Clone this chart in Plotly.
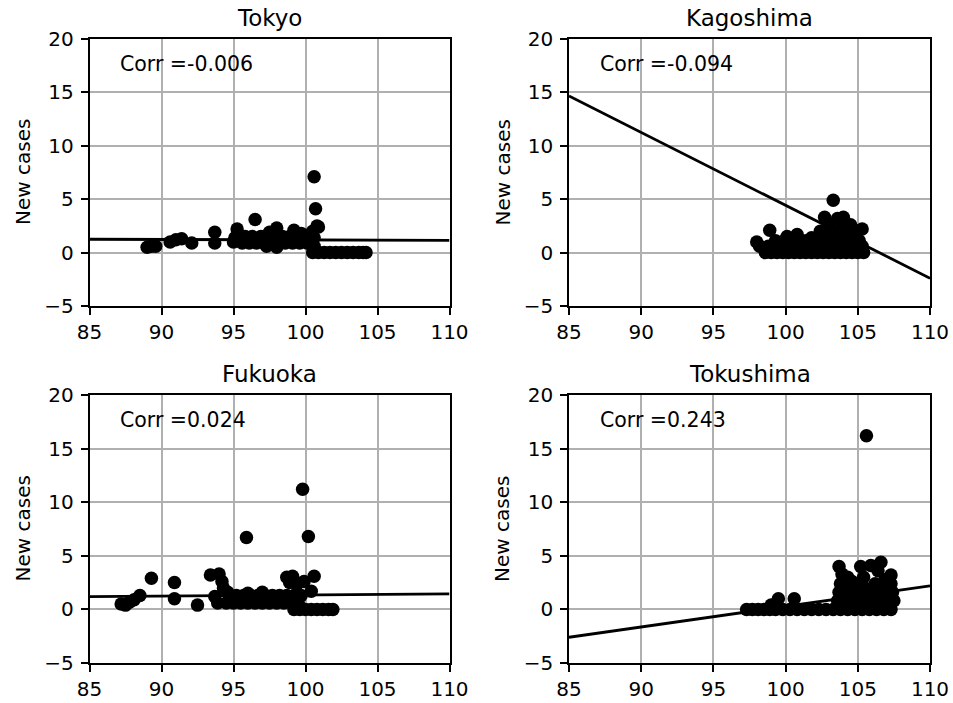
import plotly.graph_objects as go

# Scatter of new cases against the index, one panel per prefecture
regions = ["Tokyo", "Kagoshima", "Fukuoka", "Tokushima"]
corr_values = [-0.006, -0.094, 0.024, 0.243]

tokyo_x = [89.0, 89.3, 89.6, 90.6, 91.0, 91.4, 92.1, 93.7, 93.7, 95.0, 95.25, 95.1,
           95.6, 96.1, 96.6, 97.1, 97.6, 98.1, 98.6, 99.1, 99.6, 100.1,
           95.8, 96.3, 96.9, 97.4, 97.9, 98.4, 98.9, 99.4, 99.9, 100.3,
           96.5, 98.0, 99.2, 97.5, 99.7, 100.5, 98.0, 97.3,
           100.6, 100.7, 100.8, 100.9, 100.6, 100.6,
           100.5, 100.9, 101.3, 101.7, 102.1, 102.5, 102.9, 103.3, 103.7, 104.0, 104.2]
tokyo_y = [0.5, 0.6, 0.6, 1.0, 1.2, 1.3, 0.9, 1.9, 0.9, 1.0, 2.2, 1.4,
           0.9, 0.9, 0.9, 0.9, 0.9, 0.9, 0.9, 0.9, 0.9, 0.9,
           1.5, 1.5, 1.5, 1.5, 1.5, 1.5, 1.5, 1.5, 1.5, 1.5,
           3.1, 2.3, 2.1, 1.9, 1.8, 2.0, 0.5, 0.6,
           7.1, 4.1, 2.5, 2.4, 1.4, 0.6,
           0.0, 0.0, 0.0, 0.0, 0.0, 0.0, 0.0, 0.0, 0.0, 0.0, 0.0]

kagoshima_x = [98.6, 99.0, 99.4, 99.8, 100.2, 100.6, 101.0, 101.4, 101.8, 102.2, 102.6,
               103.0, 103.4, 103.8, 104.2, 104.6, 105.0, 105.4,
               98.2, 98.8, 99.5, 100.3, 101.1, 101.9, 102.5, 103.1, 103.7, 104.3, 104.9,
               105.3,
               98.0, 99.3, 99.9, 100.6, 101.4, 102.1, 102.7, 103.3, 103.9, 104.5, 105.1,
               98.9, 100.1, 100.8, 101.8, 102.4, 102.7, 103.0, 103.3, 103.6, 103.8, 104.0,
               104.2, 104.5, 104.8, 105.0, 105.3, 102.9, 103.5]
kagoshima_y = [0.0, 0.0, 0.0, 0.0, 0.0, 0.0, 0.0, 0.0, 0.0, 0.0, 0.0,
               0.0, 0.0, 0.0, 0.0, 0.0, 0.0, 0.0,
               0.6, 0.6, 0.6, 0.6, 0.6, 0.6, 0.6, 0.6, 0.6, 0.6, 0.6,
               0.6,
               1.0, 1.1, 1.1, 1.1, 1.1, 1.1, 1.1, 1.1, 1.1, 1.1, 1.1,
               2.1, 1.5, 1.7, 1.4, 2.0, 3.3, 2.6, 4.9, 3.2, 2.2, 3.3,
               1.8, 2.6, 1.6, 2.0, 2.2, 1.6, 1.6]

fukuoka_x = [87.2, 87.5, 87.8, 88.1, 88.5, 89.3, 90.9, 90.9, 92.5, 93.9, 93.7,
             93.4, 94.0, 94.2, 94.3, 94.6,
             94.5, 95.0, 95.5, 96.0, 96.5, 97.0, 97.5, 98.0, 98.5, 99.0, 99.5,
             94.7, 95.2, 95.7, 96.2, 96.7, 97.2, 97.7, 98.2, 98.7, 99.2, 99.7,
             98.7, 99.1, 98.9, 99.4, 99.9, 100.6, 100.4, 97.0, 96.0,
             95.9, 99.8, 100.2,
             99.2, 99.6, 100.0, 100.4, 100.8, 101.2, 101.6, 101.9]
fukuoka_y = [0.5, 0.4, 0.7, 0.9, 1.3, 2.9, 2.5, 1.0, 0.4, 0.6, 1.2,
             3.2, 3.3, 2.6, 2.0, 1.6,
             0.6, 0.6, 0.6, 0.6, 0.6, 0.6, 0.6, 0.6, 0.6, 0.6, 0.6,
             1.3, 1.3, 1.3, 1.3, 1.3, 1.3, 1.3, 1.3, 1.3, 1.3, 1.3,
             3.0, 3.1, 2.5, 2.3, 2.6, 3.1, 1.7, 1.6, 1.5,
             6.7, 11.2, 6.8,
             0.0, 0.0, 0.0, 0.0, 0.0, 0.0, 0.0, 0.0]

tokushima_x = [97.3, 97.7, 98.1, 98.5, 98.9, 99.3, 99.8, 100.3, 100.8, 101.3, 101.8,
               102.3, 102.8, 103.3, 103.8, 104.3, 104.8, 105.3, 105.8, 106.3, 106.8,
               107.3,
               99.5, 100.6, 99.0,
               103.6, 104.1, 104.6, 105.1, 105.6, 106.1, 106.6, 107.1, 107.5,
               103.7, 104.3, 104.9, 105.4, 105.9, 106.4, 106.9, 107.4,
               103.8, 104.4, 105.5, 106.2, 106.8, 107.3,
               103.7, 103.9, 104.3, 105.2, 105.9, 106.6, 106.4, 107.3, 105.0, 104.6,
               106.9, 105.4, 105.6]
tokushima_y = [0.0, 0.0, 0.0, 0.0, 0.0, 0.0, 0.0, 0.0, 0.0, 0.0, 0.0,
               0.0, 0.0, 0.0, 0.0, 0.0, 0.0, 0.0, 0.0, 0.0, 0.0,
               0.0,
               1.0, 1.0, 0.4,
               0.8, 0.8, 0.8, 0.8, 0.8, 0.8, 0.8, 0.8, 0.8,
               1.6, 1.6, 1.6, 1.6, 1.6, 1.6, 1.6, 1.6,
               2.4, 2.4, 2.0, 2.4, 2.4, 2.4,
               4.0, 3.3, 3.0, 4.0, 4.1, 4.4, 3.6, 3.2, 2.0, 2.6,
               2.8, 3.0, 16.2]

scatter_x = [tokyo_x, kagoshima_x, fukuoka_x, tokushima_x]
scatter_y = [tokyo_y, kagoshima_y, fukuoka_y, tokushima_y]

# Fitted regression lines, evaluated at the ends of the x range
fit_x = [85, 110]
fit_y = [[1.25, 1.15], [14.66, -2.4], [1.2, 1.45], [-2.6, 2.2]]

x_range = [85, 110]
y_range = [-5, 20]
x_ticks = [85, 90, 95, 100, 105, 110]
y_ticks = [-5, 0, 5, 10, 15, 20]

W, H = 953, 703
col_px = [(89.5, 449.5), (569.0, 930.0)]
row_px = [(39.0, 306.0), (395.0, 663.0)]
FONT = "DejaVu Sans"

fig = go.Figure()
annotations = []
for i, name in enumerate(regions):
    r, c = divmod(i, 2)
    suffix = "" if i == 0 else str(i + 1)
    xa, ya = "x" + suffix, "y" + suffix
    fig.add_trace(go.Scatter(x=scatter_x[i], y=scatter_y[i], mode="markers",
                             marker=dict(color="black", size=13.5, line=dict(width=0)),
                             xaxis=xa, yaxis=ya, showlegend=False))
    fig.add_trace(go.Scatter(x=fit_x, y=fit_y[i], mode="lines",
                             line=dict(color="black", width=2.8),
                             xaxis=xa, yaxis=ya, showlegend=False))
    x0, x1 = col_px[c]
    y0, y1 = row_px[r]
    axis_common = dict(showgrid=True, gridcolor="#b0b0b0", gridwidth=1.5,
                       showline=True, linecolor="black", linewidth=1.6, mirror=True,
                       ticks="outside", ticklen=7, tickwidth=1.6, tickcolor="black",
                       zeroline=False, automargin=False,
                       tickfont=dict(family=FONT, size=20, color="black"))
    fig.update_layout(**{
        ("xaxis" + suffix): dict(domain=[x0 / W, x1 / W], range=x_range, tickvals=x_ticks,
                                 anchor=ya, **axis_common),
        ("yaxis" + suffix): dict(domain=[1 - y1 / H, 1 - y0 / H], range=y_range,
                                 tickvals=y_ticks, anchor=xa, ticklabelstandoff=3,
                                 **axis_common),
    })
    # panel title
    annotations.append(dict(text=name, x=(x0 + x1) / 2 / W, y=1 - (y0 - 21) / H,
                            xref="paper", yref="paper", showarrow=False,
                            xanchor="center", yanchor="middle",
                            font=dict(family=FONT, size=23, color="black")))
    # y-axis label
    annotations.append(dict(text="New cases", x=(x0 - 67) / W, y=1 - (y0 + y1) / 2 / H,
                            xref="paper", yref="paper", showarrow=False, textangle=-90,
                            xanchor="center", yanchor="middle",
                            font=dict(family=FONT, size=20, color="black")))
    # correlation label
    annotations.append(dict(text="Corr =" + format(corr_values[i], ".3f"), x=87, y=17.7,
                            xref=xa, yref=ya, showarrow=False,
                            xanchor="left", yanchor="middle",
                            font=dict(family=FONT, size=20.5, color="black")))

fig.update_layout(width=W, height=H, margin=dict(l=0, r=0, t=0, b=0),
                  plot_bgcolor="white", paper_bgcolor="white",
                  annotations=annotations)
fig.write_html("out.html")
